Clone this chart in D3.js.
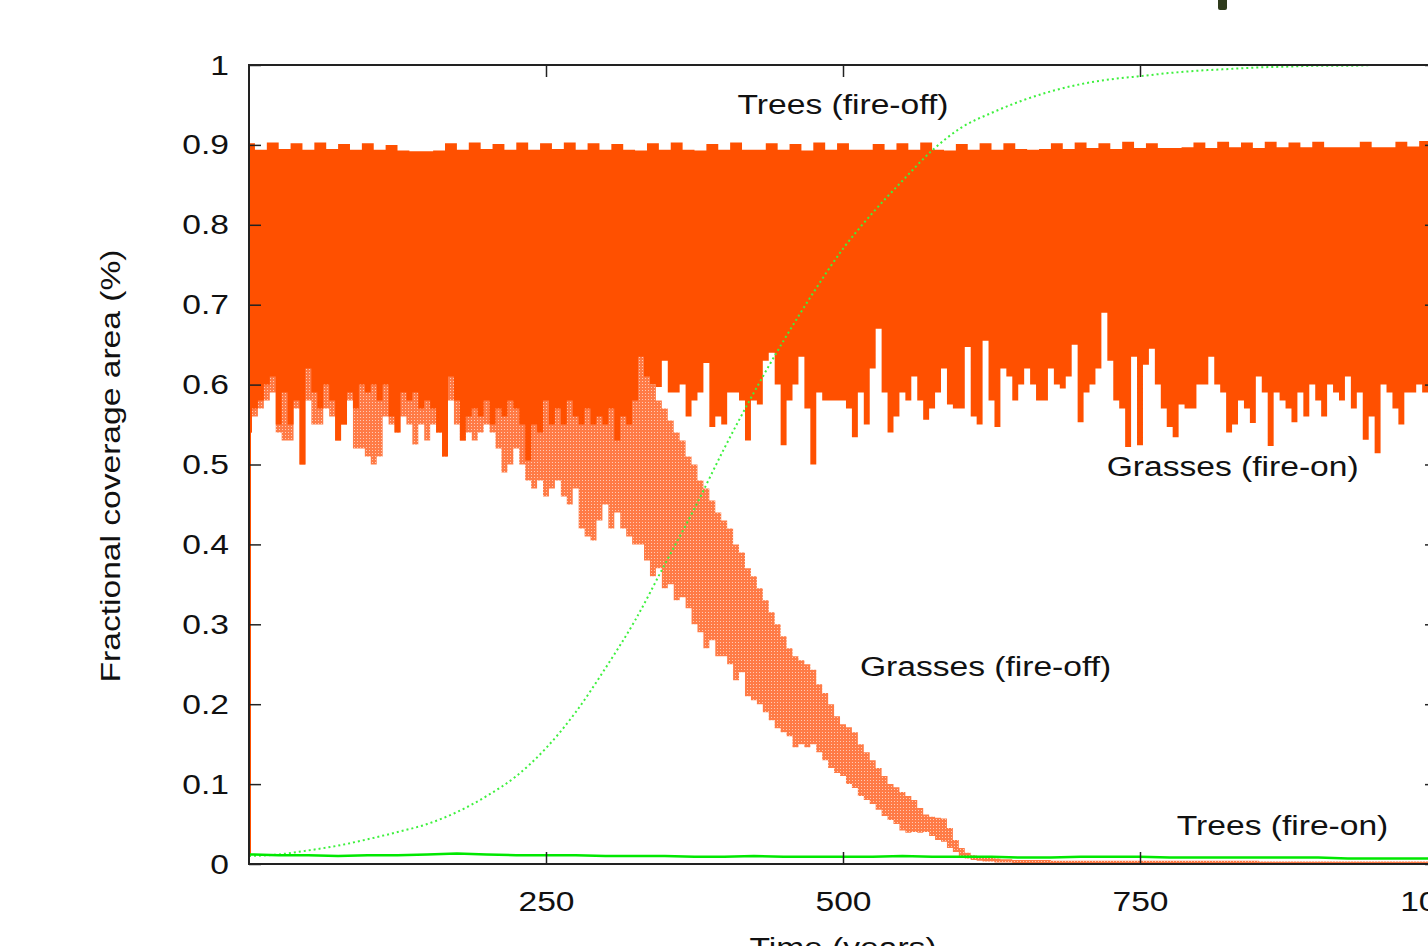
<!DOCTYPE html>
<html>
<head>
<meta charset="utf-8">
<script src="https://cdn.jsdelivr.net/npm/d3@7"></script>
<style>
  body { margin: 0; background: #fff; }
  svg { display: block; }
</style>
</head>
<body>
<div id="chart"></div>
<script>
// ==========================
// Data
// ==========================
// grasses, fire-on: lower edge of the oscillation band, every 5 years from 0 to 1000
const grassOnLow = [
  0.54, 0.57, 0.58, 0.60, 0.61, 0.55, 0.59, 0.55, 0.58, 0.50,
  0.62, 0.59, 0.57, 0.60, 0.58, 0.53, 0.55, 0.59, 0.57, 0.60,
  0.59, 0.60, 0.58, 0.60, 0.56, 0.54, 0.59, 0.58, 0.59, 0.57,
  0.58, 0.57, 0.54, 0.51, 0.61, 0.58, 0.53, 0.56, 0.57, 0.56,
  0.58, 0.55, 0.57, 0.56, 0.58, 0.57, 0.55, 0.505, 0.55, 0.54,
  0.58, 0.55, 0.57, 0.55, 0.58, 0.56, 0.55, 0.57, 0.55, 0.56,
  0.55, 0.57, 0.53, 0.56, 0.55, 0.58, 0.635, 0.61, 0.60, 0.597,
  0.63, 0.59, 0.59, 0.60, 0.56, 0.58, 0.59, 0.627, 0.547, 0.56,
  0.55, 0.59, 0.59, 0.58, 0.53, 0.58, 0.575, 0.63, 0.64, 0.60,
  0.524, 0.58, 0.60, 0.635, 0.57, 0.50, 0.59, 0.58, 0.58, 0.58,
  0.58, 0.57, 0.534, 0.59, 0.55, 0.62, 0.67, 0.59, 0.54, 0.56,
  0.59, 0.58, 0.61, 0.58, 0.556, 0.57, 0.59, 0.62, 0.575, 0.57,
  0.57, 0.647, 0.56, 0.55, 0.655, 0.58, 0.547, 0.62, 0.61, 0.58,
  0.60, 0.62, 0.60, 0.58, 0.58, 0.62, 0.60, 0.595, 0.61, 0.65,
  0.553, 0.59, 0.60, 0.62, 0.69, 0.63, 0.58, 0.57, 0.522, 0.635,
  0.524, 0.625, 0.645, 0.60, 0.57, 0.547, 0.534, 0.575, 0.57, 0.57,
  0.60, 0.60, 0.635, 0.60, 0.59, 0.54, 0.55, 0.58, 0.57, 0.552,
  0.61, 0.59, 0.523, 0.59, 0.58, 0.57, 0.553, 0.59, 0.56, 0.60,
  0.58, 0.56, 0.60, 0.59, 0.58, 0.61, 0.57, 0.59, 0.531, 0.56,
  0.514, 0.60, 0.59, 0.57, 0.55, 0.59, 0.59, 0.60, 0.59, 0.58, 0.58
];

// grasses, fire-on: upper edge, every 10 years
const grassOnHigh = [
  0.902, 0.894, 0.903, 0.895, 0.902, 0.894, 0.903, 0.895, 0.901, 0.894, 0.902, 0.894,
  0.900, 0.893, 0.892, 0.892, 0.893,
  0.902, 0.894, 0.903, 0.895, 0.901, 0.894, 0.903, 0.894, 0.902, 0.895, 0.903, 0.894, 0.902,
  0.894, 0.901, 0.894, 0.893, 0.902, 0.894, 0.903, 0.894, 0.893, 0.901,
  0.894, 0.903, 0.894, 0.894, 0.902, 0.894, 0.901, 0.893, 0.903, 0.894,
  0.902, 0.894, 0.894, 0.901, 0.894, 0.902, 0.894, 0.903, 0.894, 0.893,
  0.901, 0.894, 0.902, 0.894,
  0.902, 0.895, 0.894, 0.895,
  0.902, 0.895, 0.903, 0.896, 0.902, 0.895, 0.904, 0.896, 0.902, 0.896,
  0.896, 0.897,
  0.903, 0.896, 0.904, 0.897, 0.903, 0.896, 0.904, 0.897, 0.903, 0.897, 0.904,
  0.897, 0.897, 0.897, 0.904, 0.897, 0.897, 0.904, 0.898, 0.905, 0.898
];

// grasses, fire-off: band every 5 years up to 650, then a flat tail
const grassOffYears = d3.range(0, 655, 5).concat([700, 800, 900, 1000]);
const grassOffLow = [
  0.54, 0.56, 0.57, 0.58, 0.59, 0.54, 0.53, 0.53, 0.57, 0.50,
  0.58, 0.55, 0.55, 0.57, 0.56, 0.53, 0.55, 0.58, 0.52, 0.52,
  0.51, 0.50, 0.51, 0.56, 0.55, 0.54, 0.56, 0.55, 0.525, 0.55,
  0.53, 0.55, 0.54, 0.51, 0.58, 0.55, 0.53, 0.54, 0.53, 0.54,
  0.55, 0.54, 0.52, 0.49, 0.50, 0.52, 0.50, 0.48, 0.47, 0.48,
  0.46, 0.47, 0.48, 0.46, 0.45, 0.47, 0.42, 0.41, 0.405, 0.43,
  0.45, 0.42, 0.44, 0.42, 0.41, 0.40, 0.40, 0.38, 0.36, 0.37,
  0.345, 0.35, 0.33, 0.334, 0.32, 0.30, 0.29, 0.27, 0.28, 0.26,
  0.26, 0.25, 0.23, 0.24, 0.21, 0.205, 0.20, 0.19, 0.18, 0.17,
  0.165, 0.16, 0.146, 0.15, 0.146, 0.15, 0.14, 0.13, 0.12, 0.114,
  0.11, 0.10, 0.095, 0.085, 0.08, 0.075, 0.068, 0.06, 0.055, 0.05,
  0.042, 0.039, 0.04, 0.039, 0.04, 0.035, 0.03, 0.028, 0.02, 0.015,
  0.01, 0.007, 0.005, 0.004, 0.003, 0.003, 0.002, 0.002, 0.002, 0.001, 0.001,
  0.001, 0.001, 0.001, 0.001
];
const grassOffHigh = [
  0.89, 0.89, 0.89, 0.89, 0.89, 0.89, 0.89, 0.89, 0.89, 0.89,
  0.89, 0.89, 0.89, 0.89, 0.89, 0.89, 0.89, 0.89, 0.89, 0.89,
  0.89, 0.89, 0.89, 0.89, 0.89, 0.89, 0.89, 0.89, 0.89, 0.89,
  0.89, 0.89, 0.89, 0.89, 0.89, 0.89, 0.89, 0.89, 0.89, 0.89,
  0.89, 0.89, 0.89, 0.89, 0.89, 0.89, 0.89, 0.89, 0.89, 0.89,
  0.89, 0.89, 0.89, 0.89, 0.89, 0.89, 0.89, 0.89, 0.89, 0.89,
  0.89, 0.89, 0.89, 0.89, 0.89, 0.89, 0.89, 0.89,
  0.60, 0.58, 0.57, 0.555, 0.54, 0.53, 0.51, 0.50, 0.48, 0.47, 0.455, 0.44,
  0.43, 0.42, 0.40, 0.39, 0.37, 0.36, 0.345, 0.33, 0.315, 0.30,
  0.285, 0.27, 0.26, 0.255, 0.25, 0.243, 0.225, 0.214, 0.20, 0.185,
  0.175, 0.171, 0.165, 0.15, 0.14, 0.13, 0.12, 0.11, 0.10, 0.096,
  0.09, 0.085, 0.08, 0.07, 0.062, 0.059, 0.058, 0.057, 0.045, 0.03,
  0.02, 0.014, 0.011, 0.009, 0.008, 0.008, 0.007, 0.006, 0.006, 0.005, 0.005,
  0.004, 0.004, 0.003, 0.003
];

// the first year: grass cover jumps from almost nothing to the band
const spinUpYears = [0, 0];
const spinUpValues = [0.01, 0.894];

// trees, every 25 years
const treeYears = d3.range(0, 1001, 25);
const treesOff = [
  0.010, 0.012, 0.017, 0.023, 0.031, 0.040, 0.050, 0.065, 0.085, 0.11,
  0.145, 0.19, 0.245, 0.305, 0.375, 0.445, 0.52, 0.59, 0.655, 0.715,
  0.77, 0.815, 0.855, 0.893, 0.922, 0.94, 0.955, 0.967, 0.976, 0.982,
  0.986, 0.99, 0.993, 0.995, 0.997, 0.998, 0.999, 0.999, 1.0, 1.0, 1.0
];
const treesOn = [
  0.012, 0.011, 0.011, 0.010, 0.011, 0.011, 0.012, 0.013, 0.012, 0.011,
  0.011, 0.011, 0.010, 0.010, 0.010, 0.009, 0.009, 0.010, 0.009, 0.009,
  0.009, 0.009, 0.010, 0.009, 0.009, 0.009, 0.008, 0.008, 0.009, 0.009,
  0.009, 0.008, 0.008, 0.008, 0.008, 0.008, 0.008, 0.007, 0.007, 0.007, 0.007
];

const yTicks = [0, 0.1, 0.2, 0.3, 0.4, 0.5, 0.6, 0.7, 0.8, 0.9, 1];
const xTicks = [250, 500, 750, 1000];

const annotations = [
  { text: "Trees (fire-off)", year: 500, value: 0.939 },
  { text: "Grasses (fire-on)", year: 828, value: 0.486 },
  { text: "Grasses (fire-off)", year: 620, value: 0.235 },
  { text: "Trees (fire-on)", year: 870, value: 0.036 }
];

// ==========================
// Layout
// ==========================
const width = 1428;
const height = 946;
const plotLeft = 249, plotRight = 1437, plotTop = 65, plotBottom = 864;
const fontFamily = "'Liberation Sans', Arial, Helvetica, sans-serif";
const fontSize = 28;
const stretch = 1.2;   // the original lettering is wider than Arial

const orange = "#ff5000";
const green = "#00e800";

const x = d3.scaleLinear().domain([0, 1000]).range([plotLeft, plotRight]);
const y = d3.scaleLinear().domain([0, 1]).range([plotBottom, plotTop]);

const svg = d3.select("#chart")
  .append("svg")
  .attr("width", width)
  .attr("height", height);

// speckled fill for the dotted fire-off band
const defs = svg.append("defs");
const pat = defs.append("pattern")
  .attr("id", "speckle")
  .attr("patternUnits", "userSpaceOnUse")
  .attr("width", 3)
  .attr("height", 3);
pat.append("rect").attr("width", 3).attr("height", 3).attr("fill", "#ff5a18");
pat.append("rect").attr("width", 1).attr("height", 1).attr("fill", "#fff").attr("opacity", 0.6);

// ==========================
// Grasses
// ==========================
const offRows = grassOffYears.map((t, i) => ({ t, lo: grassOffLow[i], hi: grassOffHigh[i] }));
svg.append("path")
  .datum(offRows)
  .attr("fill", "url(#speckle)")
  .attr("opacity", 0.8)
  .attr("d", d3.area()
    .curve(d3.curveStep)
    .x(d => x(d.t))
    .y0(d => y(d.lo))
    .y1(d => y(d.hi)));

const onLowRows = grassOnLow.map((v, i) => ({ t: i * 5, v }));
const onHighRows = grassOnHigh.map((v, i) => ({ t: i * 10, v }));

// body of the band (lower edge)
svg.append("path")
  .datum(onLowRows)
  .attr("fill", orange)
  .attr("d", d3.area()
    .curve(d3.curveStep)
    .x(d => x(d.t))
    .y0(d => y(d.v))
    .y1(y(0.76)));

// body of the band (upper edge)
svg.append("path")
  .datum(onHighRows)
  .attr("fill", orange)
  .attr("d", d3.area()
    .curve(d3.curveStep)
    .x(d => x(d.t))
    .y0(y(0.72))
    .y1(d => y(d.v)));

svg.append("path")
  .datum(spinUpYears.map((t, i) => ({ t, v: spinUpValues[i] })))
  .attr("fill", "none")
  .attr("stroke", orange)
  .attr("stroke-width", 2)
  .attr("d", d3.line().x(d => x(d.t) + 1).y(d => y(d.v)));

// ==========================
// Trees
// ==========================
svg.append("path")
  .datum(treeYears.map((t, i) => ({ t, v: treesOff[i] })))
  .attr("fill", "none")
  .attr("stroke", "#3ef03e")
  .attr("stroke-width", 2)
  .attr("stroke-dasharray", "2,3")
  .attr("d", d3.line().curve(d3.curveMonotoneX).x(d => x(d.t)).y(d => y(d.v)));

svg.append("path")
  .datum(treeYears.map((t, i) => ({ t, v: treesOn[i] })))
  .attr("fill", "none")
  .attr("stroke", green)
  .attr("stroke-width", 2.5)
  .attr("d", d3.line().x(d => x(d.t)).y(d => y(d.v)));

// ==========================
// Frame & axes
// ==========================
function styleAxis(g) {
  g.attr("font-family", fontFamily).attr("font-size", fontSize);
  g.select(".domain").remove();
  g.selectAll(".tick line").attr("stroke", "#222").attr("stroke-width", 1.5);
  g.selectAll(".tick text").attr("fill", "#111");
}

const gLeft = svg.append("g")
  .attr("transform", `translate(${plotLeft},0)`)
  .call(d3.axisLeft(y).tickValues(yTicks).tickSize(-12).tickFormat(d3.format("~g")))
  .call(styleAxis);
gLeft.selectAll(".tick text")
  .attr("x", null).attr("dy", null)
  .attr("transform", `translate(-20,9) scale(${stretch},1)`);

const gBottom = svg.append("g")
  .attr("transform", `translate(0,${plotBottom})`)
  .call(d3.axisBottom(x).tickValues(xTicks).tickSize(-12).tickFormat(d3.format("d")))
  .call(styleAxis);
gBottom.selectAll(".tick text")
  .attr("y", null).attr("dy", null)
  .attr("transform", `translate(0,47) scale(${stretch},1)`);

svg.append("g")
  .attr("transform", `translate(0,${plotTop})`)
  .call(d3.axisTop(x).tickValues(xTicks).tickSize(-12).tickFormat(""))
  .call(styleAxis);

svg.append("g")
  .attr("transform", `translate(${plotRight},0)`)
  .call(d3.axisRight(y).tickValues(yTicks).tickSize(-12).tickFormat(""))
  .call(styleAxis);

svg.append("rect")
  .attr("x", plotLeft)
  .attr("y", plotTop)
  .attr("width", plotRight - plotLeft)
  .attr("height", plotBottom - plotTop)
  .attr("fill", "none")
  .attr("stroke", "#222")
  .attr("stroke-width", 2);

// ==========================
// Labels
// ==========================
function label(px, py, str, rotate) {
  svg.append("text")
    .attr("transform", `translate(${px},${py})${rotate ? " rotate(-90)" : ""} scale(${stretch},1)`)
    .attr("text-anchor", "middle")
    .attr("font-family", fontFamily)
    .attr("font-size", fontSize)
    .attr("fill", "#111")
    .text(str);
}

label(x(500), 957, "Time (years)");
label(120, 466, "Fractional coverage area (%)", true);

annotations.forEach(a => label(x(a.year), y(a.value), a.text));

// dark mark at the very top edge of the original scan
svg.append("rect")
  .attr("x", 1218)
  .attr("y", -6)
  .attr("width", 9)
  .attr("height", 16)
  .attr("rx", 2)
  .attr("fill", "#2f3b1c");
</script>
</body>
</html>
